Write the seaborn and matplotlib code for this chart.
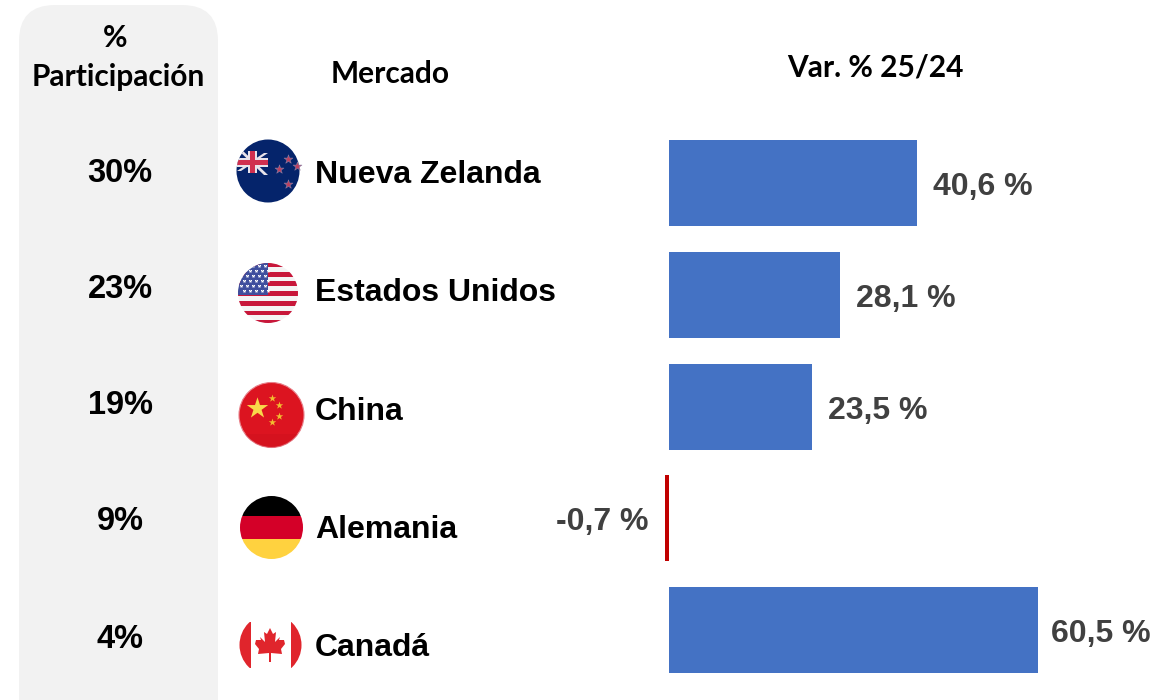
import numpy as np
import seaborn as sns
import matplotlib.pyplot as plt
from matplotlib.patches import Circle, Rectangle, FancyBboxPatch, Polygon

mercados = ["Nueva Zelanda", "Estados Unidos", "China", "Alemania", "Canadá"]
participacion = ["30%", "23%", "19%", "9%", "4%"]
variacion = [40.6, 28.1, 23.5, -0.7, 60.5]
etiquetas = ["40,6 %", "28,1 %", "23,5 %", "-0,7 %", "60,5 %"]

AZUL = "#4472c4"
ROJO = "#c00000"
ARIAL = "Liberation Sans"
CALIBRI = "Lato"

sns.set_theme(style="white")
fig = plt.figure(figsize=(11.52, 7), dpi=100)

# background layer in pixels, for panel, flags and the text columns
bg = fig.add_axes([0, 0, 1, 1])
bg.set_xlim(0, 1152)
bg.set_ylim(700, 0)
bg.axis("off")

bg.add_patch(FancyBboxPatch((19 + 36, 5 + 36), 199 - 72, 800, boxstyle="round,pad=36,rounding_size=36",
                            fc="#f2f2f2", ec="none"))

bg.text(115, 38, "%", fontsize=21.5, fontweight="bold", family=CALIBRI, color="black", ha="center", va="center")
bg.text(118.5, 77, "Participación", fontsize=21.5, fontweight="bold", family=CALIBRI, color="black", ha="center", va="center")
bg.text(390, 74, "Mercado", fontsize=21.5, fontweight="bold", family=CALIBRI, color="black", ha="center", va="center")
bg.text(875, 68, "Var. % 25/24", fontsize=21.5, fontweight="bold", family=CALIBRI, color="black", ha="center", va="center")

y_part = [173, 289, 406, 522, 639]
y_merc = [175, 293, 412, 530, 648]
for i in range(5):
    bg.text(120, y_part[i], participacion[i], fontsize=23.5, fontweight="bold", family=ARIAL, color="black", ha="center", va="center")
    bg.text(315, y_merc[i], mercados[i], fontsize=23, fontweight="bold", family=ARIAL, color="black", ha="left", va="center")


def flag_circle(cx, cy, r, color):
    c = Circle((cx, cy), r, fc=color, ec="none")
    bg.add_patch(c)
    return c


def clipped(patch, clip):
    bg.add_patch(patch)
    patch.set_clip_path(clip)
    return patch


# Nueva Zelanda
c = flag_circle(268, 171, 31.5, "#05246b")
for s in [1, -1]:
    clipped(Polygon([(237, 162 - s * 11 - 2), (241, 162 - s * 11 - 2), (268, 162 + s * 11 + 2), (264, 162 + s * 11 + 2)],
                    fc="#e8e3ea", ec="none"), c)
clipped(Rectangle((248, 151), 9, 22, fc="#e8e3ea", ec="none"), c)
clipped(Rectangle((237, 157.5), 31, 9, fc="#e8e3ea", ec="none"), c)
clipped(Rectangle((250, 151), 5, 22, fc="#d0304f", ec="none"), c)
clipped(Rectangle((237, 159.5), 31, 5, fc="#d0304f", ec="none"), c)
bg.scatter([288, 297, 279, 288], [159, 166, 169, 184], marker="*", s=45, c="#c0405f", edgecolors="#8a7fa5", linewidths=0.4, zorder=3)

# Estados Unidos
c = flag_circle(268, 293, 30, "#f4f4f4")
for k in range(7):
    clipped(Rectangle((238, 262 + k * 9.7), 60, 4.8, fc="#c8173a", ec="none"), c)
clipped(Rectangle((238, 263), 30, 32, fc="#3f4f9e", ec="none"), c)
sx, sy = [], []
for fila in range(6):
    for col in range(5):
        sx.append(241 + col * 6 + (3 if fila % 2 else 0))
        sy.append(266 + fila * 5)
star = bg.scatter(sx, sy, marker="*", s=7, c="white", linewidths=0, zorder=3)
star.set_clip_path(c)

# China
c = Circle((271.5, 415), 32.5, fc="#dc1420", ec="#e8808a", lw=0.8)
bg.add_patch(c)
clipped(Rectangle((239, 434), 65, 15, fc="#c90f1c", ec="none", alpha=0.35), c)
bg.scatter([256.7], [408], marker="*", s=260, c="#f9d84a", linewidths=0, zorder=3)
bg.scatter([272, 279, 279, 272], [398, 405, 416, 422], marker="*", s=32, c="#f2bd30", linewidths=0, zorder=3)

# Alemania
c = flag_circle(271.5, 527.5, 31.5, "none")
clipped(Rectangle((240, 516), 63, 23, fc="#d40028", ec="none"), c)
clipped(Rectangle((240, 496), 63, 20, fc="black", ec="none"), c)
clipped(Rectangle((240, 538.5), 63, 21, fc="#ffd23f", ec="none"), c)

# Canada
c = flag_circle(270.5, 645, 31, "none")
clipped(Rectangle((239, 622), 11.5, 46, fc="#e0252c", ec="none"), c)
clipped(Rectangle((290.5, 622), 11.5, 46, fc="#e0252c", ec="none"), c)
hoja_x = [0, 3, 6, 5, 10, 9, 14, 15, 11, 12, 1, 1, -1, -1, -12, -11, -15, -14, -9, -10, -5, -6, -3]
hoja_y = [-17, -11, -13, -3, -8, -5, -5, -1, 4, 9, 8, 17, 17, 8, 9, 4, -1, -5, -5, -8, -3, -13, -11]
bg.add_patch(Polygon(np.column_stack([270 + np.array(hoja_x), 645 + np.array(hoja_y)]), fc="#e0252c", ec="none"))

# bars
ax = fig.add_axes([0, 0, 1, 1])
colores = [AZUL if v >= 0 else ROJO for v in variacion]
sns.barplot(x=variacion, y=mercados, hue=mercados, palette=colores, orient="h", dodge=False,
            width=0.77, legend=False, saturation=1, linewidth=0, ax=ax)
for i, cont in enumerate(ax.containers):
    pad = 9.5 if variacion[i] > 50 else 11.5
    lab = ax.bar_label(cont, labels=[etiquetas[i]], padding=pad, fontsize=23, fontweight="bold", family=ARIAL, color="#404040")
    for t in lab:
        x_off, y_off = t.xyann
        t.xyann = (x_off, y_off - 3)
ax.set_xlim(-109.67, 79.18)
ax.set_ylim(4.626, -1.638)
ax.axis("off")

fig.savefig("out.png", dpi=100)
